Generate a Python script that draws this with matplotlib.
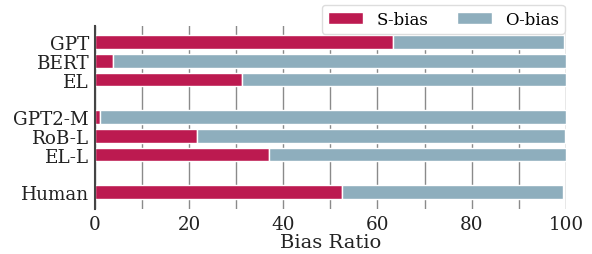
import matplotlib.pyplot as plt
import numpy as np

models = ['GPT', 'BERT', 'EL', 'GPT2-M', 'RoB-L', 'EL-L', 'Human']
ypos = [0, 1, 2, 4, 5, 6, 8]
s_bias = [63.2, 3.9, 31.3, 1.2, 21.6, 37.0, 52.4]
o_bias = [36.4, 96.1, 68.7, 98.8, 78.1, 63.0, 46.9]

plt.rcParams['font.family'] = 'DejaVu Serif'

fig = plt.figure(figsize=(5.92, 2.55), dpi=100)
ax = fig.add_axes([0.16, 0.176, 0.796, 0.718])

ax.barh(ypos, s_bias, height=0.72, color='#bc1a50', edgecolor='white', linewidth=1, label='S-bias', zorder=2)
ax.barh(ypos, o_bias, left=s_bias, height=0.72, color='#8eaebd', edgecolor='white', linewidth=1, label='O-bias', zorder=2)

ax.set_xlim(0, 100)
ax.set_ylim(8.9, -0.85)
ax.set_yticks(ypos)
ax.set_yticklabels(models, fontsize=13.2, color='#222222')
ax.set_xticks(np.arange(0, 101, 20))
ax.set_xticks(np.arange(0, 101, 10), minor=True)
ax.tick_params(axis='x', labelsize=13.2, colors='#222222', length=0, which='both', pad=4)
ax.tick_params(axis='y', length=0, pad=4)
ax.grid(axis='x', which='both', color='#8a8a8a', linewidth=1, zorder=0)
ax.set_axisbelow(True)
for s in ['top', 'right', 'bottom']:
    ax.spines[s].set_visible(False)
ax.spines['left'].set_color('#444444')
ax.spines['left'].set_linewidth(1.5)

ax.set_xlabel('Bias Ratio', fontsize=14, color='#222222', labelpad=0)
ax.legend(loc='upper right', bbox_to_anchor=(1.015, 1.16), ncol=2, fontsize=12,
          handlelength=2.1, columnspacing=1.7, framealpha=1, edgecolor='#dddddd',
          borderpad=0.35)

fig.savefig('out.png', dpi=100)
